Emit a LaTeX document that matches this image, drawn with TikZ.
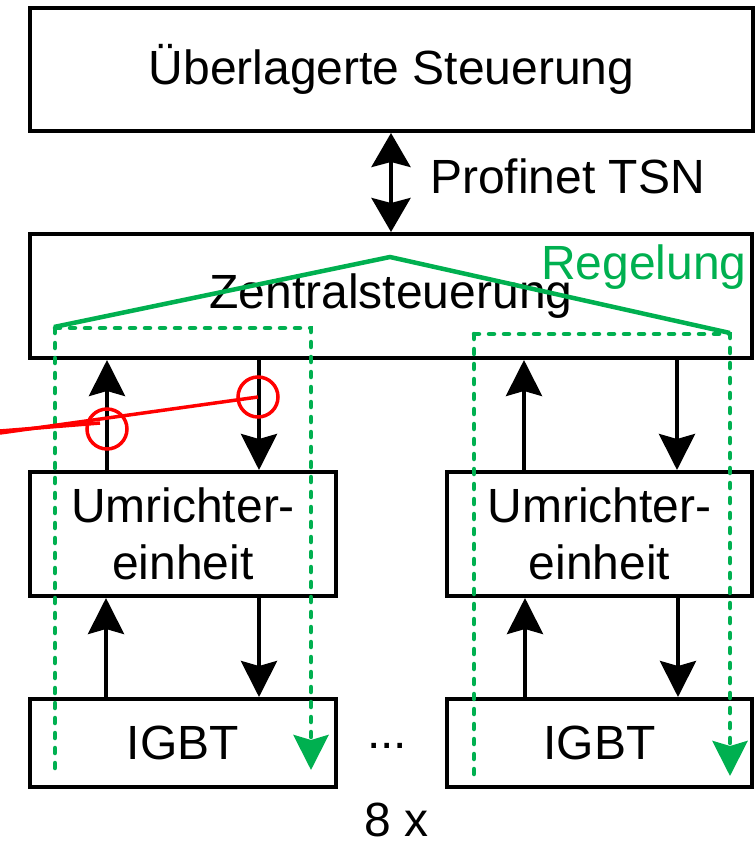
\documentclass[tikz,border=0pt]{standalone}
\usepackage{fontspec}
\setmainfont{Liberation Sans}
\usetikzlibrary{arrows.meta}
\definecolor{regelgreen}{RGB}{0,176,80}
\begin{document}
\begin{tikzpicture}[x=1pt,y=-1pt,
  font=\fontsize{48pt}{57.6pt}\selectfont,
  box/.style={draw=black, line width=4pt, rectangle, inner sep=0pt, align=center},
  blk/.style={line width=4pt, -{Stealth[length=36pt,width=36pt,inset=5pt]}},
  dbl/.style={line width=4pt, {Stealth[length=34pt,width=39pt,inset=5pt]}-{Stealth[length=34pt,width=39pt,inset=5pt]}},
  gsolid/.style={draw=regelgreen, line width=4.5pt},
  gdot/.style={draw=regelgreen, line width=4.5pt, line cap=round, dash pattern=on 5pt off 10pt},
  gdotarr/.style={gdot, -{Stealth[length=35pt,width=35pt,inset=5pt,fill=regelgreen,line cap=butt]}},
  redl/.style={draw=red, line width=3.5pt},
  txt/.style={inner sep=0pt, anchor=base}
]
\useasboundingbox (0,0) rectangle (755,846);

% boxes
\node[box, minimum width=723pt, minimum height=123pt] (ue) at (391.5,69.5) {Überlagerte Steuerung};
\node[box, minimum width=722pt, minimum height=124pt] (zs) at (391,296) {Zentralsteuerung};
\node[box, minimum width=306pt, minimum height=124pt] (u1) at (183,534) {Umrichter-\\einheit};
\node[box, minimum width=305pt, minimum height=124pt] (u2) at (599.5,534) {Umrichter-\\einheit};
\node[box, minimum width=306pt, minimum height=88pt] (i1) at (183,743) {IGBT};
\node[box, minimum width=305pt, minimum height=88pt] (i2) at (599.5,743) {IGBT};

% texts
\node[txt, anchor=base west] (pt) at (430,193) {Profinet TSN};
\node[txt, anchor=base west, text=regelgreen] (rg) at (541,279) {Regelung};
\node[txt] (dots) at (387,748) {...};
\node[txt] (acht) at (397,836) {8 x};

% Profinet double arrow
\draw[dbl] (ue.south -| 391,0) -- (zs.north -| 391,0);

% left group arrows
\draw[blk] (u1.north -| 107,0) -- (zs.south -| 107,0);
\draw[blk] (zs.south -| 259,0) -- (u1.north -| 259,0);
\draw[blk] (i1.north -| 106,0) -- (u1.south -| 106,0);
\draw[blk] (u1.south -| 259,0) -- (i1.north -| 259,0);

% right group arrows
\draw[blk] (u2.north -| 524,0) -- (zs.south -| 524,0);
\draw[blk] (zs.south -| 677,0) -- (u2.north -| 677,0);
\draw[blk] (i2.north -| 525,0) -- (u2.south -| 525,0);
\draw[blk] (u2.south -| 678,0) -- (i2.north -| 678,0);

% green control path
\coordinate (gl) at (54,327);
\coordinate (gp) at (390,257);
\coordinate (gr) at (730,333);
\draw[gsolid, line join=miter] (gl) -- (gp) -- (gr);

\coordinate (l1a) at (55,768);
\coordinate (l1b) at (311,328);
\coordinate (l1c) at (311,770);
\draw[gdot] (55,328) -- (l1a);
\draw[gdotarr] (55,328) -- (l1b) -- (l1c);

\coordinate (r1a) at (474,334);
\coordinate (r1b) at (474,775);
\coordinate (r1c) at (730,776);
\draw[gdot] (r1a) -- (r1b);
\draw[gdotarr] (r1a) -- (730,334) -- (r1c);

% red marks
\node[circle, draw=red, line width=3.5pt, minimum size=40pt, inner sep=0pt] (c1) at (107,429) {};
\node[circle, draw=red, line width=3.5pt, minimum size=40pt, inner sep=0pt] (c2) at (258,397) {};
\coordinate (ra) at (0,433);
\coordinate (rb) at (0,431);
\draw[redl] (ra) -- (c2.center);
\draw[redl] (rb) -- (100,423);
\end{tikzpicture}
\end{document}
